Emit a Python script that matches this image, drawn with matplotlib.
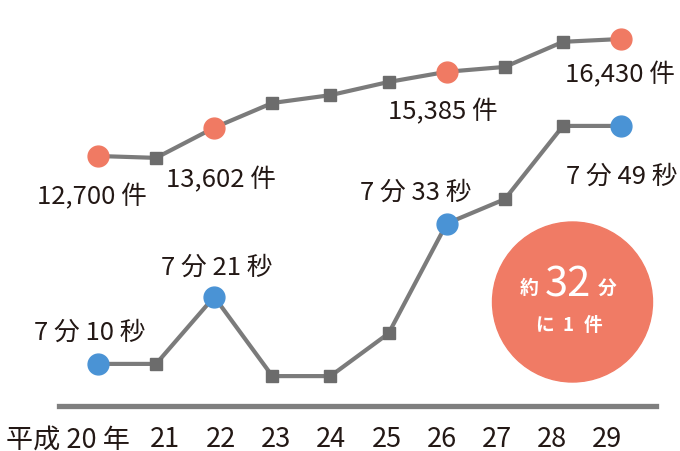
import matplotlib
matplotlib.use("Agg")
import matplotlib.pyplot as plt
from matplotlib.patches import Circle

plt.rcParams['font.family'] = ['Noto Sans CJK JP', 'DejaVu Sans']

# データ
years = [20, 21, 22, 23, 24, 25, 26, 27, 28, 29]
year_labels = ["平成 20 年", "21", "22", "23", "24", "25", "26", "27", "28", "29"]
cases = [12700, 12640, 13602, 14390, 14640, 15060, 15385, 15540, 16340, 16430]
# 秒換算 (7分10秒 = 430秒)
seconds = [430, 430, 441, 428, 428, 435, 453, 457, 469, 469]
highlight = [0, 2, 6, 9]

case_labels = {0: "12,700 件", 2: "13,602 件", 6: "15,385 件", 9: "16,430 件"}
time_labels = {0: "7 分 10 秒", 2: "7 分 21 秒", 6: "7 分 33 秒", 9: "7 分 49 秒"}

line_c = "#7b7b7b"
sq_c = "#6c6c6c"
orange = "#f07a63"
blue = "#4a93d5"
txt_c = "#231815"

fig = plt.figure(figsize=(6.8, 4.52), dpi=100)
ax = fig.add_axes([59/680, 45/452, (656-59)/680, 407/452])
ax2 = ax.twinx()

ax.set_xlim(19.33, 29.6)
ax.set_ylim(423.1, 489.8)
ax2.set_ylim(4730, 17705)

for a in (ax, ax2):
    for s in ["top", "right", "left"]:
        a.spines[s].set_visible(False)
    a.set_yticks([])
    a.set_xticks([])
ax2.spines["bottom"].set_visible(False)
ax.spines["bottom"].set_color("#7f7f7f")
ax.spines["bottom"].set_linewidth(3.8)

# 件数
ax2.plot(years, cases, color=line_c, lw=3, marker="s", ms=8, mfc=sq_c, mec=sq_c, zorder=3)
ax2.plot([years[i] for i in highlight], [cases[i] for i in highlight], "o",
         color=orange, ms=15, zorder=4)
# 時間
ax.plot(years, seconds, color=line_c, lw=3, marker="s", ms=8, mfc=sq_c, mec=sq_c, zorder=3)
ax.plot([years[i] for i in highlight], [seconds[i] for i in highlight], "o",
        color=blue, ms=15, zorder=4)

fs = 18.5
case_off = {0: (-6, -40), 2: (7, -51), 6: (-4, -39), 9: (-1, -35)}
for i, t in case_labels.items():
    dx, dy = case_off[i]
    ax2.annotate(t, (years[i], cases[i]), xytext=(dx, dy), textcoords="offset pixels",
                 ha="center", va="center", fontsize=fs, color=txt_c)
time_off = {0: (-8, 32), 2: (3, 30), 6: (-31, 32), 9: (1, -50)}
for i, t in time_labels.items():
    dx, dy = time_off[i]
    ax.annotate(t, (years[i], seconds[i]), xytext=(dx, dy), textcoords="offset pixels",
                ha="center", va="center", fontsize=fs, color=txt_c)

# 年ラベル
label_px = [68, 165, 221, 276, 331, 387, 442, 497, 552, 607]
for lab, px in zip(year_labels, label_px):
    fig.text(px/680, 1 - 440/452, lab, ha="center", va="center",
             fontsize=19.5, color=txt_c)

# 円
circ = Circle((5.725, 4.52 - 3.03), 0.80, transform=fig.dpi_scale_trans,
              color="#f07b65", zorder=5)
fig.add_artist(circ)
fig.text(529/680, 1 - 288/452, "約", fontsize=13.5, color="white", ha="center", va="center",
         fontweight="bold", zorder=6)
fig.text(568/680, 1 - 285/452, "32", fontsize=30, color="white", ha="center", va="center",
         zorder=6)
fig.text(607/680, 1 - 288/452, "分", fontsize=13.5, color="white", ha="center", va="center",
         fontweight="bold", zorder=6)
for t, px in zip(["に", "1", "件"], [544, 568, 593]):
    fig.text(px/680, 1 - 326/452, t, fontsize=13.5, color="white", ha="center",
             va="center", fontweight="bold", zorder=6)

fig.savefig("out.png", dpi=100)
